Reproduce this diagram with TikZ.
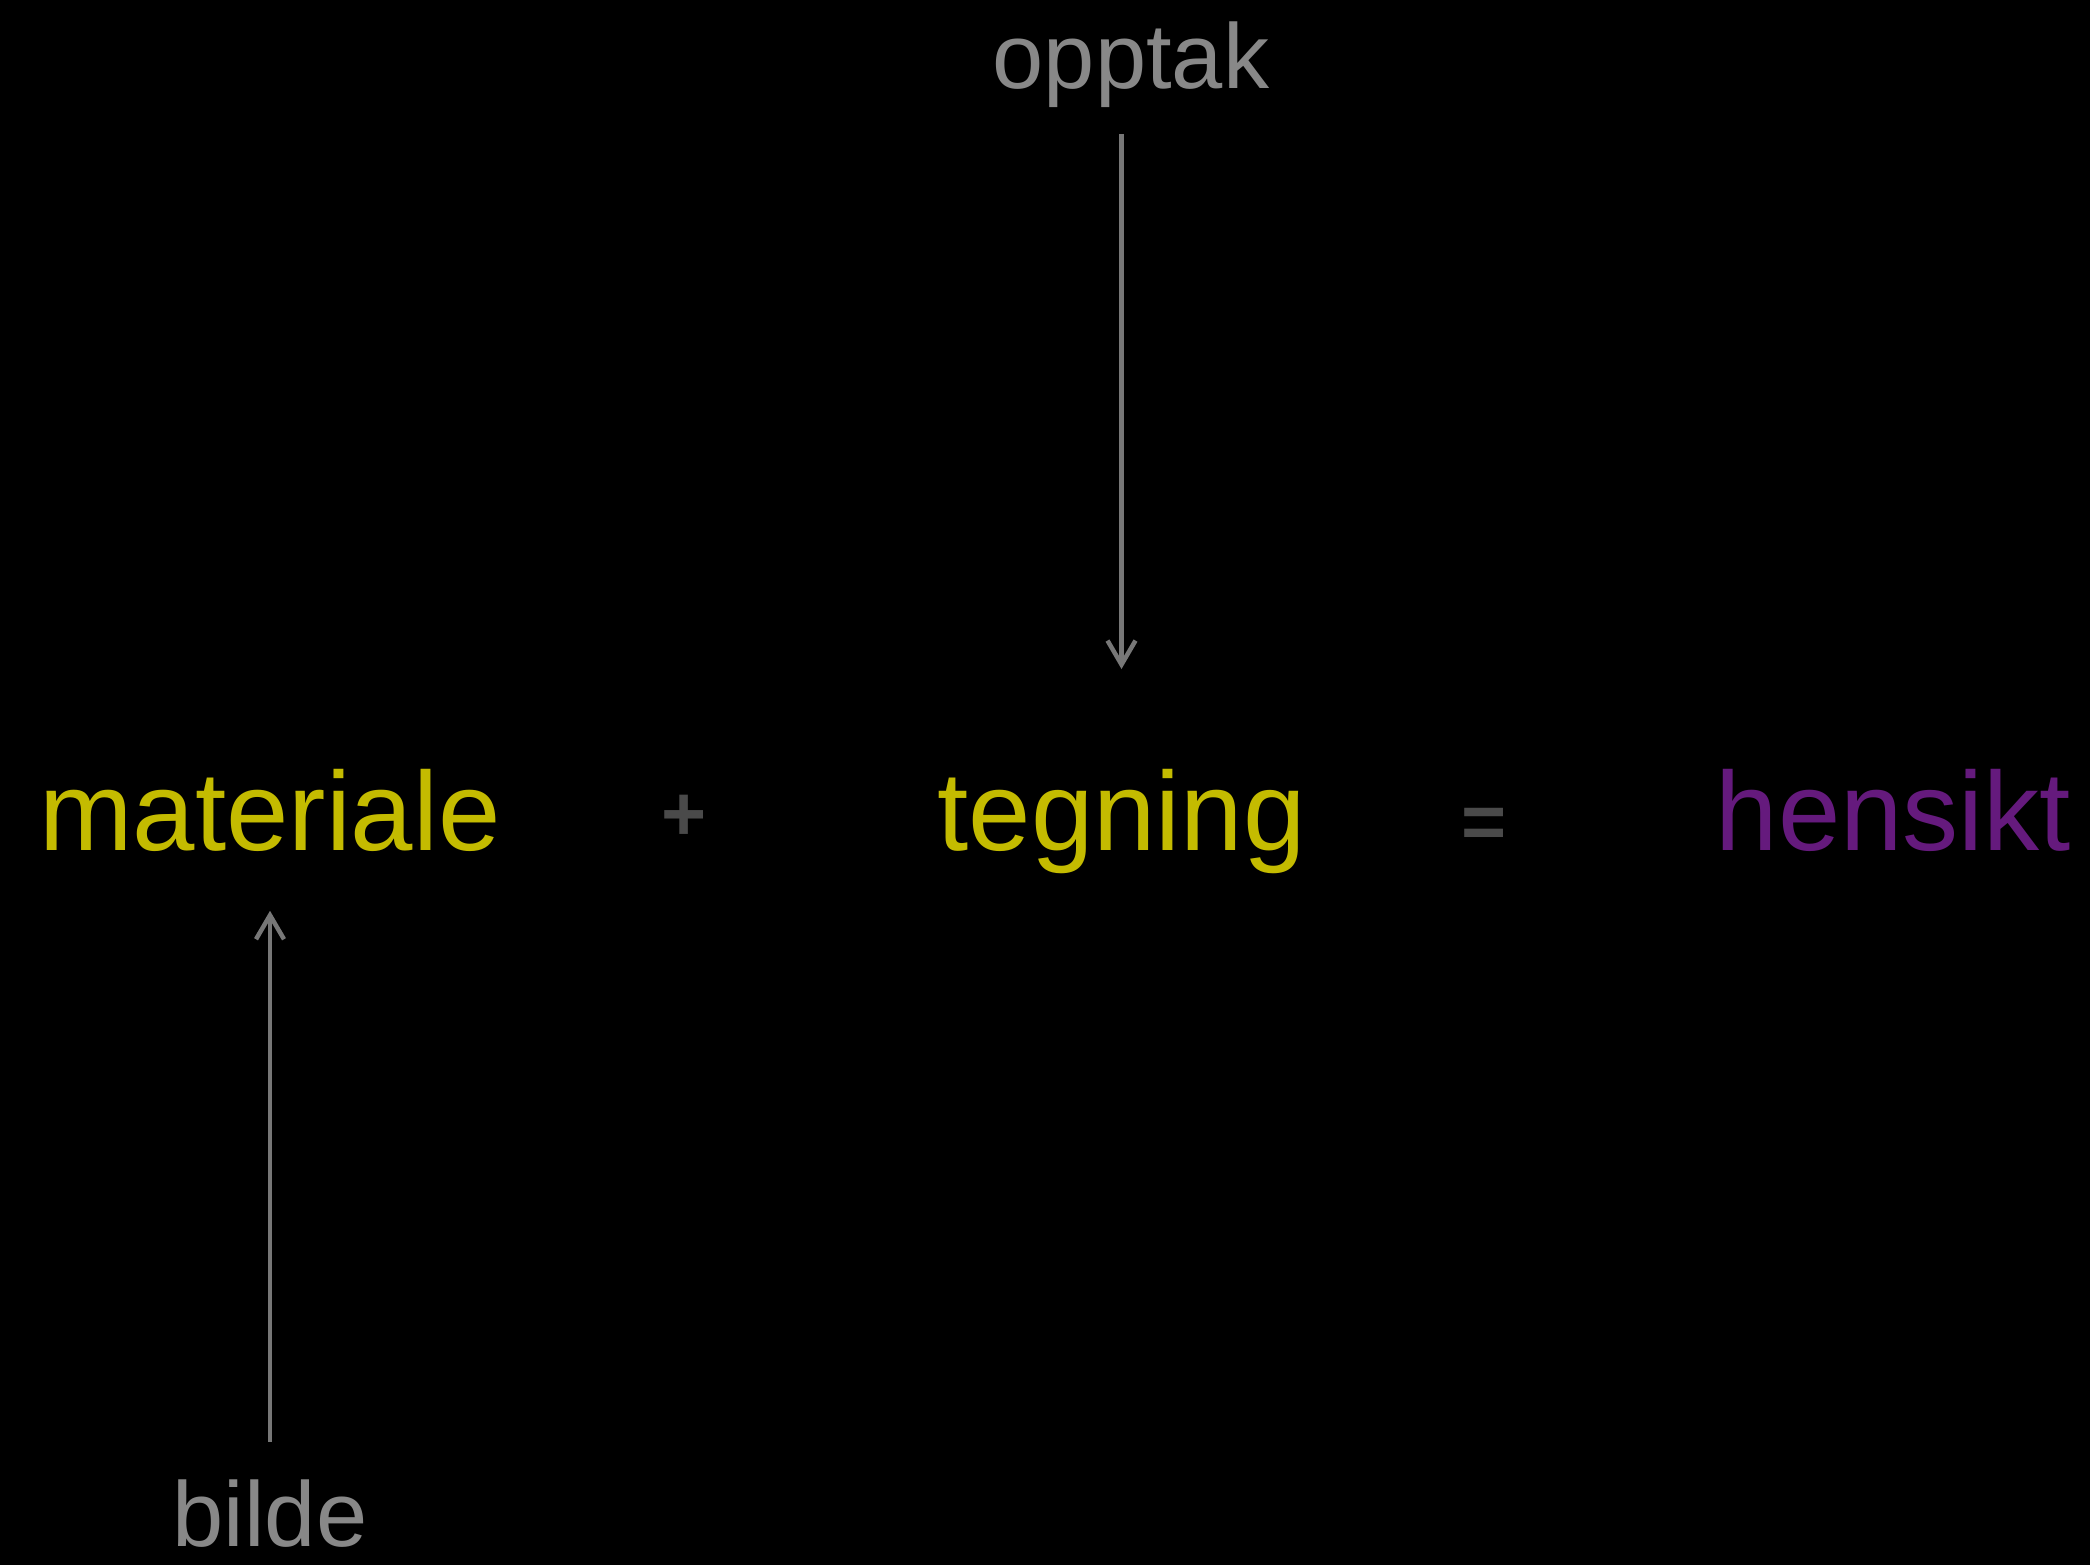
\documentclass[tikz,border=0pt]{standalone}
\usepackage{fontspec}
\setmainfont{Liberation Sans}
\usetikzlibrary{arrows.meta}
\definecolor{ordgul}{HTML}{C4BB00}
\definecolor{ordlilla}{HTML}{651A7D}
\definecolor{merkgra}{HTML}{888888}
\definecolor{pilgra}{HTML}{777777}
\definecolor{tegngra}{HTML}{4A4A4A}
\tikzset{
  ord/.style={inner sep=0pt,anchor=base,font=\fontsize{31.9}{38}\selectfont},
  merke/.style={inner sep=0pt,anchor=base,text=merkgra,font=\fontsize{26.2}{31}\selectfont},
  tegn/.style={inner sep=0pt,anchor=base,text=tegngra,font=\bfseries\fontsize{22}{27}\selectfont},
  pil/.style={draw=pilgra,line width=0.045cm,-{Straight Barb[length=2.4mm,width=2.8mm]}}
}
\begin{document}
\begin{tikzpicture}
  \fill[black] (0,0) rectangle (20.9,15.65);
  \useasboundingbox (0,0) rectangle (20.9,15.65);
  \node[ord,text=ordgul] (materiale) at (2.70,7.14) {materiale};
  \node[tegn] (pluss) at (6.84,7.24) {+};
  \node[ord,text=ordgul] (tegning) at (11.215,7.14) {tegning};
  \node[tegn] (lik) at (14.84,7.16) {=};
  \node[ord,text=ordlilla] (hensikt) at (18.935,7.14) {hensikt};
  \node[merke] (opptak) at (11.31,14.76) {opptak};
  \node[merke] (bilde) at (2.70,0.18) {bilde};
  \draw[pil,shorten <=0.25cm,shorten >=1.00cm] (opptak.south -| tegning.north) -- (tegning.north);
  \draw[pil,shorten <=0.38cm,shorten >=0.58cm] (bilde.north) -- (materiale.south);
\end{tikzpicture}
\end{document}
